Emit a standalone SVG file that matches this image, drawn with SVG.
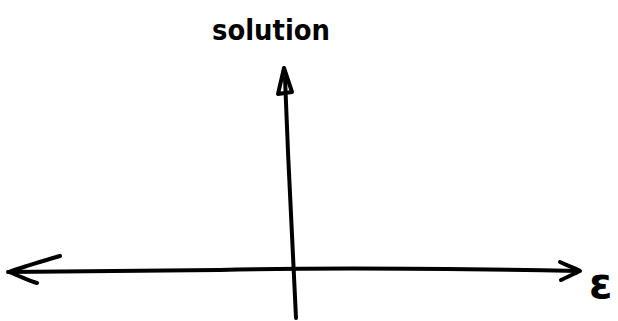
<svg xmlns="http://www.w3.org/2000/svg" width="618" height="321" viewBox="0 0 618 321">
<style>
.ln{fill:none;stroke:#000;stroke-width:4;stroke-linecap:round;stroke-linejoin:round}
.t{font-family:"DejaVu Sans",sans-serif;font-weight:bold;fill:#000}
</style>
<rect width="618" height="321" fill="#fff"/>
<g id="connectors">
<path class="ln" d="M296,318 C293,260 288,160 285,78"/>
<path class="ln" d="M284,68 L278,94 L292,92 Z"/>
<path class="ln" d="M8,272 C80,271 150,271 220,270 C300,268 420,268 578,271"/>
<path class="ln" d="M60,256 C40,262 22,267 9,272 C22,277 30,281 37,283"/>
<path class="ln" d="M560,262 C568,266 575,268 580,271 C574,274 567,277 561,280"/>
</g>
<g id="label-solution"><text class="t" x="212" y="40" font-size="28" textLength="118" lengthAdjust="spacingAndGlyphs">solution</text></g>
<g id="label-epsilon"><text class="t" x="589" y="298" font-size="42">ε</text></g>
</svg>
